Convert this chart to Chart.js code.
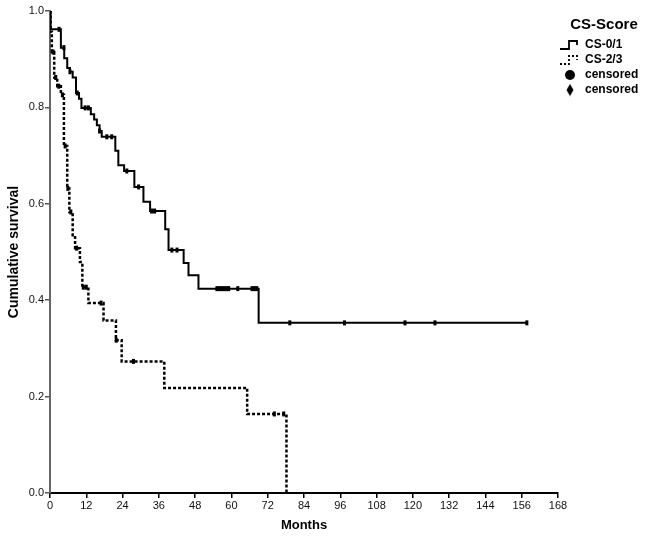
<!DOCTYPE html>
<html>
<head>
<meta charset="utf-8">
<script src="https://cdn.jsdelivr.net/npm/chart.js@4.4.0/dist/chart.umd.min.js"></script>
<style>
  html, body { margin: 0; padding: 0; background: #fff; }
  #wrap { width: 650px; height: 537px; position: relative; }
</style>
</head>
<body>
<div id="wrap"><canvas id="chart"></canvas></div>
<script>
// CS-0/1 group: month of each step and survival after it
const lowTimes = [0, 0.2, 3.6, 4.7, 5.7, 6.6, 7.5, 8.6, 9.6, 10.4, 13.5, 14.6, 15.5, 16.4, 17.1, 21.6, 22.6, 24.5, 27.9, 30.9, 33.1, 38.1, 39.2, 44.2, 45.8, 49.1, 69.0, 157.7];
const lowSurv = [1.0, 0.962, 0.924, 0.902, 0.882, 0.874, 0.862, 0.830, 0.818, 0.799, 0.786, 0.775, 0.763, 0.751, 0.739, 0.710, 0.680, 0.668, 0.635, 0.604, 0.585, 0.547, 0.504, 0.477, 0.452, 0.424, 0.353, 0.353];
const lowCensored = [3.0, 4.6, 6.6, 9.0, 11.6, 12.7, 16.4, 18.8, 20.4, 25.4, 29.3, 33.6, 34.6, 40.3, 42.0, 55.2, 56.0, 56.8, 57.6, 58.4, 59.1, 62.1, 66.8, 67.6, 68.4, 79.3, 97.4, 117.4, 127.3, 157.7];

// CS-2/3 group
const highTimes = [0, 0.2, 0.6, 1.4, 2.4, 3.6, 4.6, 5.7, 6.4, 7.5, 8.3, 9.9, 10.7, 12.7, 17.7, 21.8, 23.7, 37.8, 65.2, 78.2];
const highSurv = [1.0, 0.957, 0.915, 0.862, 0.844, 0.826, 0.720, 0.632, 0.583, 0.535, 0.508, 0.479, 0.427, 0.394, 0.358, 0.317, 0.273, 0.218, 0.164, 0];
const highCensored = [1.0, 1.9, 2.9, 4.1, 5.0, 5.9, 6.9, 8.8, 11.0, 12.0, 16.9, 21.9, 27.6, 74.2, 77.3];

const xTicks = [0, 12, 24, 36, 48, 60, 72, 84, 96, 108, 120, 132, 144, 156, 168];
const yTicks = [0, 0.2, 0.4, 0.6, 0.8, 1.0];

const FONT = "'Liberation Sans', Arial, Helvetica, sans-serif";

// survival value on a step curve at month t
function survAt(times, surv, t) {
    let s = surv[0];
    for (let i = 0; i < times.length; i++) {
        if (times[i] <= t) s = surv[i];
    }
    return s;
}

function toPoints(times, surv) {
    return times.map((t, i) => ({ x: t, y: surv[i] }));
}

function censorPoints(list, times, surv) {
    return list.map(t => ({ x: t, y: survAt(times, surv, t) }));
}

// small legend icons
function stepIcon(dotted) {
    const c = document.createElement('canvas');
    c.width = 20; c.height = 12;
    const g = c.getContext('2d');
    g.strokeStyle = '#000';
    g.lineWidth = 1.8;
    if (dotted) g.setLineDash([2, 2]);
    g.beginPath();
    g.moveTo(0, 10); g.lineTo(9, 10); g.lineTo(9, 2); g.lineTo(17, 2); g.lineTo(17, 6);
    g.stroke();
    return c;
}
function circleIcon() {
    const c = document.createElement('canvas');
    c.width = 12; c.height = 12;
    const g = c.getContext('2d');
    g.fillStyle = '#000';
    g.beginPath(); g.arc(6, 6, 5, 0, Math.PI * 2); g.fill();
    return c;
}
function diamondIcon() {
    const c = document.createElement('canvas');
    c.width = 8; c.height = 13;
    const g = c.getContext('2d');
    g.fillStyle = '#000';
    g.beginPath();
    g.moveTo(4, 0.5); g.lineTo(7.5, 6.5); g.lineTo(4, 12.5); g.lineTo(0.5, 6.5);
    g.closePath(); g.fill();
    return c;
}
const icons = [stepIcon(false), stepIcon(true), circleIcon(), diamondIcon()];

// fix the legend width so the plot area ends where the reference does
const legendWidth = {
    id: 'legendWidth',
    beforeInit(chart) {
        const fit = chart.legend.fit;
        chart.legend.fit = function () {
            fit.call(this);
            this.width = 92;
        };
    }
};

const ctx = document.getElementById('chart').getContext('2d');
new Chart(ctx, {
    type: 'line',
    data: {
        datasets: [
            {
                label: 'CS-0/1',
                data: toPoints(lowTimes, lowSurv),
                stepped: true,
                borderColor: '#000',
                borderWidth: 2,
                pointRadius: 0,
                fill: false
            },
            {
                label: 'CS-2/3',
                data: toPoints(highTimes, highSurv),
                stepped: true,
                borderColor: '#000',
                borderWidth: 2.5,
                borderDash: [3, 2],
                pointRadius: 0,
                fill: false
            },
            {
                label: 'censored',
                data: censorPoints(lowCensored, lowTimes, lowSurv),
                showLine: false,
                pointStyle: 'line',
                rotation: 90,
                pointRadius: 2.5,
                pointBorderWidth: 3,
                borderColor: '#000',
                backgroundColor: '#000'
            },
            {
                label: 'censored',
                data: censorPoints(highCensored, highTimes, highSurv),
                showLine: false,
                pointStyle: 'line',
                rotation: 90,
                pointRadius: 2.5,
                pointBorderWidth: 3,
                borderColor: '#000',
                backgroundColor: '#000'
            }
        ]
    },
    options: {
        responsive: true,
        maintainAspectRatio: false,
        animation: false,
        layout: { padding: { top: 11, left: 0, right: 0, bottom: 0 } },
        scales: {
            x: {
                type: 'linear',
                min: 0,
                max: 168,
                afterBuildTicks: (scale) => { scale.ticks = xTicks.map(v => ({ value: v })); },
                afterFit: (scale) => { scale.height = 44; },
                ticks: {
                    color: '#111',
                    font: { family: FONT, size: 11 },
                    padding: 1,
                    maxRotation: 0
                },
                grid: { drawOnChartArea: false, drawTicks: true, tickLength: 5, color: '#000', lineWidth: 1.5 },
                border: { color: '#000', width: 2 },
                title: {
                    display: true,
                    text: 'Months',
                    color: '#000',
                    font: { family: FONT, size: 13, weight: 'bold' },
                    padding: { top: 0, bottom: 4 }
                }
            },
            y: {
                min: 0,
                max: 1,
                afterBuildTicks: (scale) => { scale.ticks = yTicks.map(v => ({ value: v })); },
                afterFit: (scale) => { scale.width = 50; },
                ticks: {
                    color: '#111',
                    font: { family: FONT, size: 11 },
                    padding: 1,
                    callback: (v) => v.toFixed(1)
                },
                grid: { drawOnChartArea: false, drawTicks: true, tickLength: 5, color: '#555', lineWidth: 1.5 },
                border: { color: '#666', width: 2 },
                title: {
                    display: true,
                    text: 'Cumulative survival',
                    color: '#000',
                    font: { family: FONT, size: 14, weight: 'bold' },
                    padding: { top: 6, bottom: 0 }
                }
            }
        },
        plugins: {
            tooltip: { enabled: false },
            legend: {
                position: 'right',
                align: 'start',
                title: {
                    display: true,
                    text: 'CS-Score',
                    color: '#000',
                    font: { family: FONT, size: 15, weight: 'bold' },
                    padding: { top: 6, bottom: 1 }
                },
                labels: {
                    color: '#000',
                    font: { family: FONT, size: 12, weight: 'bold' },
                    padding: 3,
                    usePointStyle: true,
                    pointStyleWidth: 18,
                    generateLabels: (chart) => {
                        const items = Chart.defaults.plugins.legend.labels.generateLabels(chart);
                        items.forEach((item, i) => {
                            item.pointStyle = icons[i];
                            item.rotation = 0;
                        });
                        return items;
                    }
                }
            }
        }
    },
    plugins: [legendWidth]
});
</script>
</body>
</html>
